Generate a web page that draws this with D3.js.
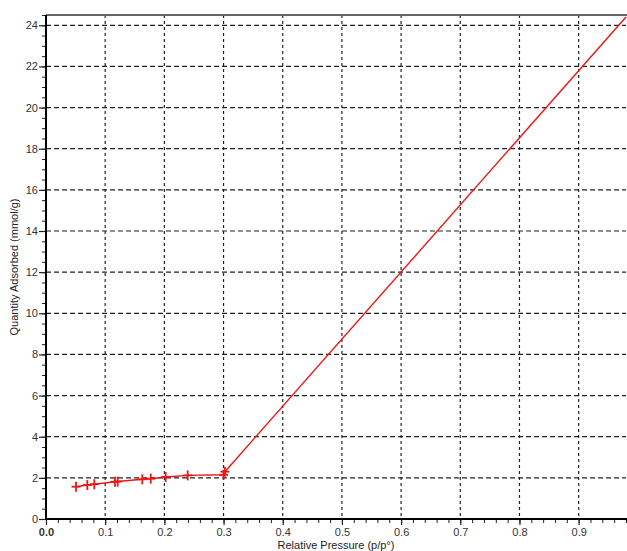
<!DOCTYPE html>
<html><head><meta charset="utf-8">
<script src="https://cdn.jsdelivr.net/npm/d3@7/dist/d3.min.js"></script>
<style>body{margin:0;background:#fff;}svg{display:block;font-family:"Liberation Sans",Arial,sans-serif;}</style>
</head><body>
<svg id="c" width="627" height="551"></svg>
<script>
const pressure = [0.0507, 0.0698, 0.0816, 0.1166, 0.1211, 0.1627, 0.1770, 0.2022, 0.2394, 0.3000, 0.3024, 0.98];
const adsorbed = [1.57, 1.65, 1.69, 1.81, 1.82, 1.93, 1.96, 2.04, 2.12, 2.15, 2.30, 24.4];
const marked   = [1,1,1,1,1,1,1,1,1,1,1,0];
const xTicks = [0.0,0.1,0.2,0.3,0.4,0.5,0.6,0.7,0.8,0.9];
const yTicks = [0,2,4,6,8,10,12,14,16,18,20,22,24];
const xLabel = "Relative Pressure (p/p°)";
const yLabel = "Quantity Adsorbed (mmol/g)";

const svg = d3.select("#c");
const L=46, R=626, T=15, B=519;
const x = d3.scaleLinear().domain([0,0.98]).range([L,R]);
const y = d3.scaleLinear().domain([0,24.5]).range([B,T]);

// grid
svg.append("g").selectAll("line").data(yTicks.filter(d=>d>0)).join("line")
  .attr("x1",L).attr("x2",R).attr("y1",d=>y(d)).attr("y2",d=>y(d))
  .attr("stroke","#222").attr("stroke-width",1.2).attr("stroke-dasharray","5,3");
svg.append("g").selectAll("line").data(xTicks.filter(d=>d>0)).join("line")
  .attr("y1",T).attr("y2",B).attr("x1",d=>x(d)).attr("x2",d=>x(d))
  .attr("stroke","#222").attr("stroke-width",1.2).attr("stroke-dasharray","3,3");

// top border
svg.append("line").attr("x1",L).attr("x2",627).attr("y1",T).attr("y2",T)
  .attr("stroke","#666").attr("stroke-width",2);

// minor ticks
const xMinor = d3.range(0,0.981,0.02);
const yMinor = d3.range(0,24.51,0.5);
const xMinAx = d3.axisBottom(x).tickValues(xMinor).tickSize(4).tickFormat("");
const yMinAx = d3.axisLeft(y).tickValues(yMinor).tickSize(4).tickFormat("");
const gxm = svg.append("g").attr("transform",`translate(0,${B})`).call(xMinAx);
const gym = svg.append("g").attr("transform",`translate(${L},0)`).call(yMinAx);
[gxm,gym].forEach(g=>{g.select(".domain").remove();g.selectAll("line").attr("stroke","#222");});

// major axes
const gx = svg.append("g").attr("transform",`translate(0,${B})`)
  .call(d3.axisBottom(x).tickValues(xTicks).tickSize(6).tickPadding(3).tickFormat(d3.format(".1f")));
const gy = svg.append("g").attr("transform",`translate(${L},0)`)
  .call(d3.axisLeft(y).tickValues(yTicks).tickSize(7).tickPadding(1).tickFormat(d3.format("d")));
[gx,gy].forEach(g=>{
  g.select(".domain").remove();
  g.selectAll("line").attr("stroke","#222").attr("stroke-width",1.2);
  g.selectAll("text").attr("fill","#333").attr("font-size",11).attr("font-family","Liberation Sans, Arial, sans-serif");
});
gx.selectAll("text").filter(d=>d===0).attr("font-weight","bold");

// axis lines
svg.append("line").attr("x1",L).attr("x2",L).attr("y1",T).attr("y2",B+1).attr("stroke","#000").attr("stroke-width",2);
svg.append("line").attr("x1",L-1).attr("x2",627).attr("y1",B).attr("y2",B).attr("stroke","#000").attr("stroke-width",2);

// data
const pts = pressure.map((p,i)=>({p,q:adsorbed[i],m:marked[i]}));
const red="#ee1515";
svg.append("path").datum(pts)
  .attr("d",d3.line().x(d=>x(d.p)).y(d=>y(d.q)))
  .attr("fill","none").attr("stroke",red).attr("stroke-width",1.4);
const mk = svg.append("g").selectAll("g").data(pts.filter(d=>d.m)).join("g")
  .attr("transform",d=>`translate(${x(d.p)},${y(d.q)})`);
mk.append("line").attr("x1",-4.5).attr("x2",4.5).attr("stroke",red).attr("stroke-width",1.8);
mk.append("line").attr("y1",-5).attr("y2",5).attr("stroke",red).attr("stroke-width",1.8);

// labels
svg.append("text").attr("x",x(0.49)).attr("y",549).attr("text-anchor","middle")
  .attr("font-size",11).attr("fill","#222").text(xLabel);
svg.append("text").attr("transform",`translate(18,${(T+B)/2}) rotate(-90)`).attr("text-anchor","middle")
  .attr("font-size",11).attr("fill","#222").text(yLabel);
</script>
</body></html>
